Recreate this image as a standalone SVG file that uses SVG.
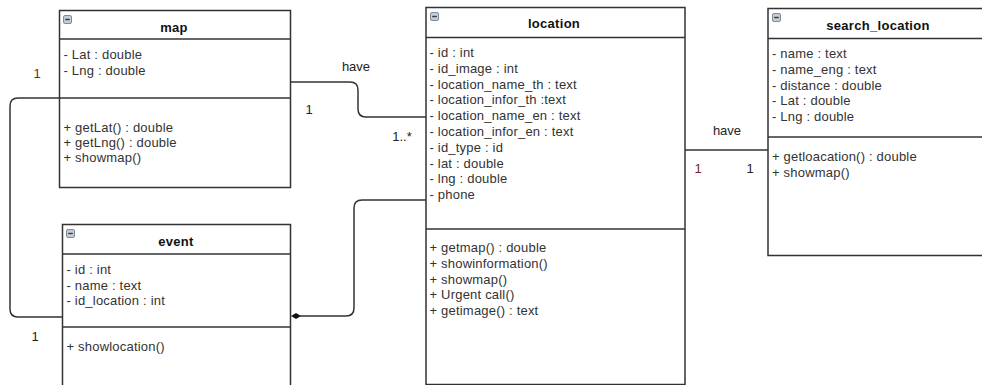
<svg xmlns="http://www.w3.org/2000/svg" width="982" height="385" viewBox="0 0 982 385">
<style>
.box{fill:#fff;stroke:#333;stroke-width:1.5}
.sep{stroke:#333;stroke-width:1.5}
.t{font-family:"Liberation Sans",Arial,sans-serif;font-size:13px;fill:#333;letter-spacing:0.2px}
.h{font-family:"Liberation Sans",Arial,sans-serif;font-size:13px;font-weight:bold;fill:#111;text-anchor:middle;letter-spacing:0.3px}
.lbl{font-family:"Liberation Sans",Arial,sans-serif;font-size:13px;fill:#222;text-anchor:middle}
.red{fill:#7a1f1f}
.conn{fill:none;stroke:#333;stroke-width:1.5}
.ico{fill:#c4ccd6;stroke:#7f8b98;stroke-width:1}
</style>
<defs>
<g id="icon"><rect class="ico" x="0.5" y="0.5" width="8" height="8" rx="1.5"/><line x1="2.2" y1="4.5" x2="6.8" y2="4.5" stroke="#3a3a3a" stroke-width="1.4"/></g>
</defs>
<g id="map">
<rect class="box" x="59.5" y="10.5" width="231" height="177"/>
<line class="sep" x1="59.5" y1="39" x2="290.5" y2="39"/>
<line class="sep" x1="59.5" y1="98" x2="290.5" y2="98"/>
<use href="#icon" x="63" y="15"/>
<text class="h" x="174" y="31.5">map</text>
<text class="t" x="63.5" y="58.5">- Lat : double</text>
<text class="t" x="63.5" y="75">- Lng : double</text>
<text class="t" x="63.5" y="131.5">+ getLat() : double</text>
<text class="t" x="63.5" y="147">+ getLng() : double</text>
<text class="t" x="63.5" y="162">+ showmap()</text>
</g>
<g id="event">
<rect class="box" x="62.5" y="224.5" width="228" height="175"/>
<line class="sep" x1="62.5" y1="254" x2="290.5" y2="254"/>
<line class="sep" x1="62.5" y1="327" x2="290.5" y2="327"/>
<use href="#icon" x="66" y="229"/>
<text class="h" x="176" y="245.5">event</text>
<text class="t" x="66.5" y="273.5">- id : int</text>
<text class="t" x="66.5" y="289.5">- name : text</text>
<text class="t" x="66.5" y="305">- id_location : int</text>
<text class="t" x="66.5" y="351">+ showlocation()</text>
</g>
<g id="location">
<rect class="box" x="426" y="7.5" width="259" height="377"/>
<line class="sep" x1="426" y1="37.5" x2="685" y2="37.5"/>
<line class="sep" x1="426" y1="229" x2="685" y2="229"/>
<use href="#icon" x="430" y="12"/>
<text class="h" x="554" y="28">location</text>
<text class="t" x="429.5" y="57">- id : int</text>
<text class="t" x="429.5" y="72.8">- id_image : int</text>
<text class="t" x="429.5" y="88.6">- location_name_th : text</text>
<text class="t" x="429.5" y="104.4">- location_infor_th :text</text>
<text class="t" x="429.5" y="120.2">- location_name_en : text</text>
<text class="t" x="429.5" y="136">- location_infor_en : text</text>
<text class="t" x="429.5" y="151.8">- id_type : id</text>
<text class="t" x="429.5" y="167.6">- lat : double</text>
<text class="t" x="429.5" y="183.4">- lng : double</text>
<text class="t" x="429.5" y="199.2">- phone</text>
<text class="t" x="429.5" y="252">+ getmap() : double</text>
<text class="t" x="429.5" y="267.8">+ showinformation()</text>
<text class="t" x="429.5" y="283.6">+ showmap()</text>
<text class="t" x="429.5" y="299.4">+ Urgent call()</text>
<text class="t" x="429.5" y="315">+ getimage() : text</text>
</g>
<g id="search_location">
<rect class="box" x="768" y="8.5" width="222" height="247"/>
<line class="sep" x1="768" y1="38.5" x2="990" y2="38.5"/>
<line class="sep" x1="768" y1="137" x2="990" y2="137"/>
<use href="#icon" x="772" y="13"/>
<text class="h" x="878" y="30">search_location</text>
<text class="t" x="772" y="58">- name : text</text>
<text class="t" x="772" y="73.8">- name_eng : text</text>
<text class="t" x="772" y="89.6">- distance : double</text>
<text class="t" x="772" y="105.4">- Lat : double</text>
<text class="t" x="772" y="121.2">- Lng : double</text>
<text class="t" x="772" y="161">+ getloacation() : double</text>
<text class="t" x="772" y="177">+ showmap()</text>
</g>
<g id="connectors">
<path class="conn" d="M59,98 L18,98 Q10,98 10,106 L10,309 Q10,317 18,317 L62,317"/>
<path class="conn" d="M290,82 L350,82 Q358,82 358,90 L358,109 Q358,117 366,117 L426,117"/>
<path class="conn" d="M300,316 L346,316 Q354,316 354,308 L354,208 Q354,200 362,200 L426,200"/>
<path d="M291,316 L296,313 L301,316 L296,319 Z" fill="#111"/>
<path class="conn" d="M685,150 L768,150"/>
<text class="lbl red" x="37" y="77.5">1</text>
<text class="lbl" x="35" y="341">1</text>
<text class="lbl" x="356" y="70.5">have</text>
<text class="lbl" x="309" y="113.5">1</text>
<text class="lbl" x="402" y="141">1..*</text>
<text class="lbl" x="727" y="134.5">have</text>
<text class="lbl red" x="698" y="172.5">1</text>
<text class="lbl" x="750" y="172.5">1</text>
</g>
</svg>
